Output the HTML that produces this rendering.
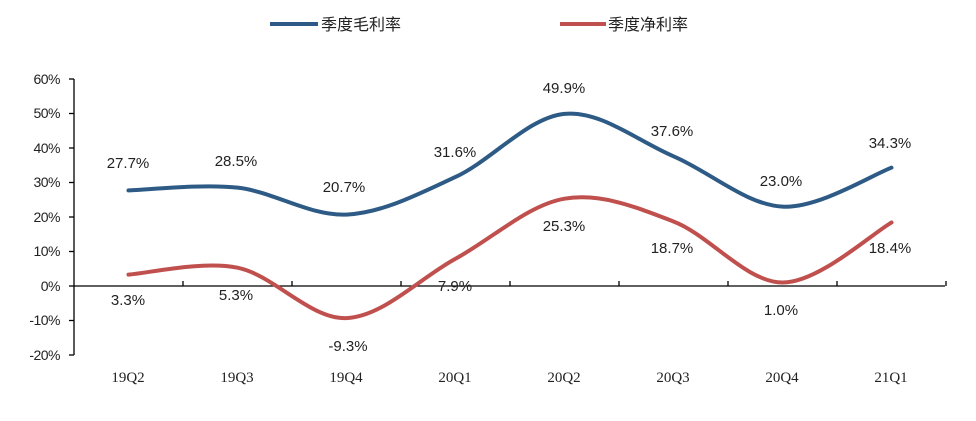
<!DOCTYPE html>
<html><head><meta charset="utf-8"><style>
html,body{margin:0;padding:0;background:#fff}
svg{display:block}
.t{font-family:"Liberation Sans","Noto Sans CJK SC",sans-serif;font-size:15px;fill:#222}
.y{font-family:"Liberation Sans",sans-serif;font-size:14px;fill:#222;letter-spacing:-0.5px}
.x{font-family:"Liberation Serif",serif;font-size:15px;fill:#222}
</style></head><body>
<svg id="s" width="976" height="421" viewBox="0 0 976 421">
<line x1="270" y1="24" x2="318" y2="24" stroke="#2e5b86" stroke-width="4"/>
<text class="t" x="321" y="30" style="font-size:16px">季度毛利率</text>
<line x1="560" y1="24" x2="606" y2="24" stroke="#c0504d" stroke-width="4"/>
<text class="t" x="608" y="30" style="font-size:16px">季度净利率</text>
<g stroke="#000" stroke-width="1.3" fill="none">
<line x1="74" y1="79" x2="74" y2="355"/>
<line x1="74" y1="286" x2="945" y2="286"/>
</g>
<g id="ticks" stroke="#000" stroke-width="1.3"></g>
<g class="y" text-anchor="end">
<text x="60" y="84">60%</text><text x="60" y="118">50%</text><text x="60" y="153">40%</text>
<text x="60" y="187">30%</text><text x="60" y="222">20%</text><text x="60" y="256">10%</text>
<text x="60" y="291">0%</text><text x="60" y="325">-10%</text><text x="60" y="360">-20%</text>
</g>
<g class="x" text-anchor="middle">
<text x="128" y="382">19Q2</text><text x="237" y="382">19Q3</text><text x="346" y="382">19Q4</text>
<text x="455" y="382">20Q1</text><text x="564" y="382">20Q2</text><text x="673" y="382">20Q3</text>
<text x="782" y="382">20Q4</text><text x="891" y="382">21Q1</text>
</g>
<path id="pb" fill="none" stroke="#2e5b86" stroke-width="4" stroke-linecap="round"/>
<path id="pr" fill="none" stroke="#c0504d" stroke-width="4" stroke-linecap="round"/>
<g class="t" text-anchor="middle">
<text x="128" y="168">27.7%</text><text x="236" y="166">28.5%</text><text x="344" y="192">20.7%</text>
<text x="455" y="157">31.6%</text><text x="564" y="93">49.9%</text><text x="672" y="136">37.6%</text>
<text x="781" y="186">23.0%</text><text x="890" y="148">34.3%</text>
<text x="128" y="305">3.3%</text><text x="236" y="300">5.3%</text><text x="348" y="351">-9.3%</text>
<text x="455" y="291">7.9%</text><text x="564" y="231">25.3%</text><text x="672" y="253">18.7%</text>
<text x="781" y="315">1.0%</text><text x="890" y="253">18.4%</text>
</g>
</svg>
<script>
var X=function(i){return 128.5+109*i}, Y=function(v){return 286-v*3.45};
var t=document.getElementById('ticks'),h='';
for(var v=-20;v<=60;v+=10){h+='<line x1="69" y1="'+Y(v)+'" x2="74" y2="'+Y(v)+'"/>';}
for(var i=1;i<=8;i++){var x=74+109*i;h+='<line x1="'+x+'" y1="281" x2="'+x+'" y2="286"/>';}
t.innerHTML=h;
function path(d){var p=d.map(function(v,i){return [X(i),Y(v)]});var s='M'+p[0][0]+','+p[0][1];
for(var i=0;i<p.length-1;i++){var a=p[i-1]||p[i],b=p[i],c=p[i+1],e=p[i+2]||c;
s+=' C'+(b[0]+(c[0]-a[0])/6)+','+(b[1]+(c[1]-a[1])/6)+' '+(c[0]-(e[0]-b[0])/6)+','+(c[1]-(e[1]-b[1])/6)+' '+c[0]+','+c[1];}return s;}
document.getElementById('pb').setAttribute('d',path([27.7,28.5,20.7,31.6,49.9,37.6,23.0,34.3]));
document.getElementById('pr').setAttribute('d',path([3.3,5.3,-9.3,7.9,25.3,18.7,1.0,18.4]));
</script>
</body></html>
